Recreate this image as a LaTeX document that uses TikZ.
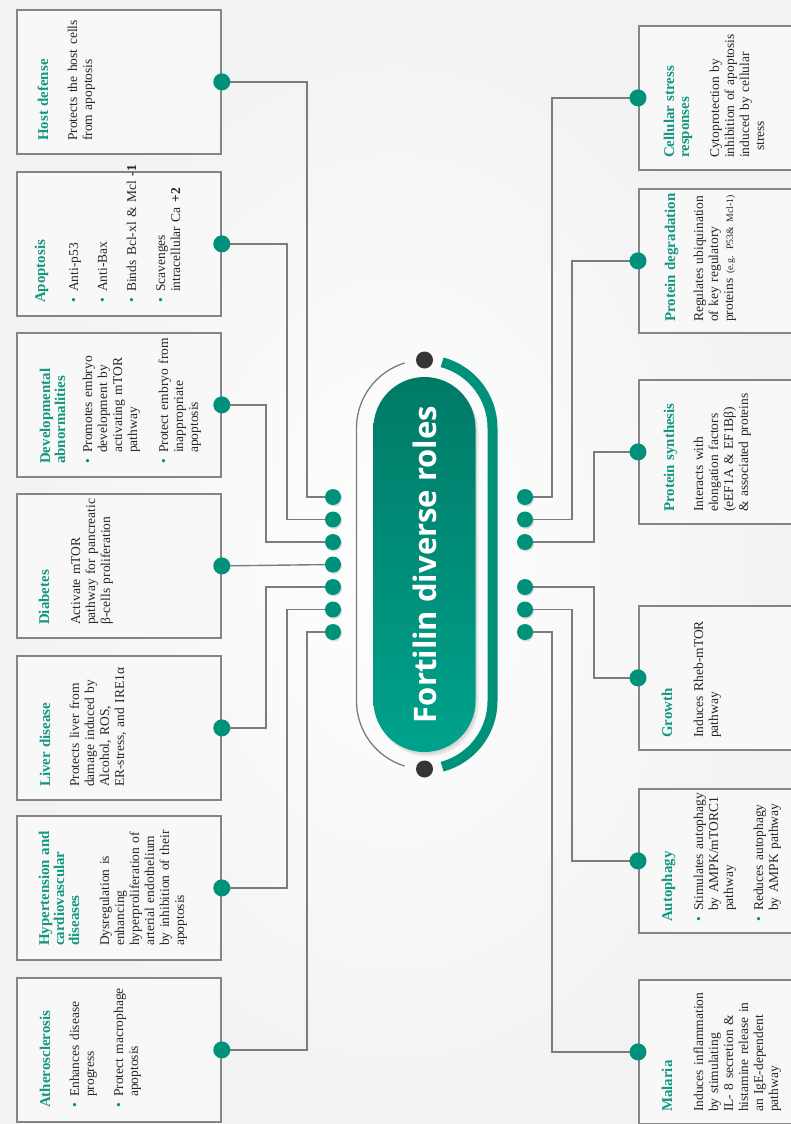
\documentclass[tikz,border=0pt]{standalone}
\usepackage{fontspec}
\setmainfont{Liberation Serif}
\newfontfamily\titlefont{Open Sans}
\usetikzlibrary{shapes.misc}

\definecolor{fteal}{HTML}{00917B}
\definecolor{headteal}{HTML}{13977F}
\definecolor{pilldark}{HTML}{007A67}
\definecolor{pilllight}{HTML}{00A28B}
\definecolor{linegray}{HTML}{7C7C7C}
\definecolor{boxgray}{HTML}{858585}
\definecolor{boxfill}{HTML}{F8F8F8}
\definecolor{pagebg}{HTML}{F1F2F2}
\definecolor{bodygray}{HTML}{262626}
\definecolor{darkdot}{HTML}{353535}

% heading, bullet and hanging indent used inside the role boxes
\newcommand\hd[1]{{\fontsize{14.9}{15}\selectfont\bfseries\color{headteal}#1}}
\newcommand\bul{\makebox[11pt][l]{\textcolor{fteal}{\textbullet}}}
\newcommand\ind{\hspace*{11pt}}

\begin{document}
\begin{tikzpicture}[x=1pt,y=1pt,
  rolebox/.style={draw=boxgray, line width=1.8pt, fill=boxfill, minimum height=144pt, inner sep=0pt, anchor=north west},
  leftbox/.style={rolebox, minimum width=204pt},
  rightbox/.style={rolebox, minimum width=170pt},
  roletext/.style={rotate=90, anchor=base west, inner sep=0pt, text width=160pt, align=left, text=bodygray, font=\fontsize{13.5}{15}\selectfont},
  tdot/.style={circle, fill=fteal, minimum size=17pt, inner sep=0pt},
  hubdot/.style={circle, fill=fteal, minimum size=16pt, inner sep=0pt},
  ddot/.style={circle, fill=darkdot, minimum size=17pt, inner sep=0pt},
  conn/.style={draw=linegray, line width=1.4pt},
  dotshadow/.style={circle, fill=black, opacity=0.12, minimum size=17pt, inner sep=0pt},
]
\useasboundingbox (0,0) rectangle (791,-1124);
\clip (0,0) rectangle (791,-1124);
\shade[inner color=white, outer color=pagebg] (0,0) rectangle (791,-1124);

% ---- central hub: ring, end dots and pill ----
\coordinate (ringtop) at (424.5,-428);
\coordinate (ringbot) at (424.5,-701);
\draw[linegray, line width=1.3pt] (ringtop) ++(107:68) arc[start angle=107, end angle=180, radius=68]
  -- ++(0,-273) arc[start angle=180, end angle=253, radius=68];
\draw[fteal, line width=10pt] (ringtop) ++(75:68) arc[start angle=75, end angle=0, radius=68]
  -- ++(0,-273) arc[start angle=0, end angle=-75, radius=68];
\node[ddot] (topdot) at (424.5,-360) {};
\node[ddot] (botdot) at (424.5,-769) {};

\foreach \s/\o in {1/0.05,2/0.05,3/0.05}
  \fill[black, opacity=\o, rounded corners=51pt] (373.5+\s,-377-1.5*\s) rectangle (475.5+\s,-752-1.5*\s);
\node[rounded rectangle, minimum width=375pt, minimum height=102pt, inner sep=0pt, rotate=90,
      top color=pilldark, bottom color=pilllight, text=white,
      font=\titlefont\bfseries\fontsize{31}{31}\selectfont] (core) at (424.5,-564.5) {Fortilin diverse roles};

% ---- hub dots ----
\foreach \i/\y in {1/497,2/519.5,3/542,4/564.5,5/587,6/609.5,7/632}{
  \node[dotshadow, minimum size=16pt] at (334,-\y-1.5) {};
  \node[hubdot] (L\i) at (333,-\y) {};}
\foreach \i/\y in {1/497,2/519.5,3/542,4/587,5/609.5,6/632}{
  \node[dotshadow, minimum size=16pt] at (526,-\y-1.5) {};
  \node[hubdot] (R\i) at (525,-\y) {};}

% ---- role boxes ----
\node[leftbox] (hostB)  at (16,-9) {};
\node[leftbox] (apopB)  at (16,-171) {};
\node[leftbox] (devB)   at (16,-332) {};
\node[leftbox] (diabB)  at (16,-493) {};
\node[leftbox] (liverB) at (16,-655) {};
\node[leftbox] (hyperB) at (16,-815) {};
\node[leftbox] (athB)   at (16,-977) {};

\node[rightbox] (cellB) at (638,-25) {};
\node[rightbox] (pdegB) at (638,-188) {};
\node[rightbox] (psynB) at (638,-379) {};
\node[rightbox] (growB) at (638,-605) {};
\node[rightbox] (autoB) at (638,-788) {};
\node[rightbox] (malB)  at (638,-979) {};

% ---- connectors ----
\draw[conn] (hostB.east)  -- ++(85,0) |- (L1);
\draw[conn] (apopB.east)  -- ++(65,0) |- (L2);
\draw[conn] (devB.east)   -- ++(44,0) |- (L3);
\draw[conn] (diabB.east)  -- (L4);
\draw[conn] (liverB.east) -- ++(44,0) |- (L5);
\draw[conn] (hyperB.east) -- ++(65,0) |- (L6);
\draw[conn] (athB.east)   -- ++(85,0) |- (L7);

\draw[conn] (cellB.west) -- ++(-86,0) |- (R1);
\draw[conn] (pdegB.west) -- ++(-66,0) |- (R2);
\draw[conn] (psynB.west) -- ++(-44,0) |- (R3);
\draw[conn] (growB.west) -- ++(-44,0) |- (R4);
\draw[conn] (autoB.west) -- ++(-66,0) |- (R5);
\draw[conn] (malB.west)  -- ++(-86,0) |- (R6);

% ---- box dots ----
\foreach \b in {hostB,apopB,devB,diabB,liverB,hyperB,athB}
  \node[tdot] (\b D) at (\b.east) {};
\foreach \b in {cellB,pdegB,psynB,growB,autoB,malB}
  \node[tdot] (\b D) at (\b.west) {};

% ---- box texts (left column) ----
\node[roletext] (hostT) at (48,-141) {\hd{Host defense}\\[14pt]
  Protects the host cells\\ from apoptosis};
\node[roletext] (apopT) at (45,-303) {\hd{Apoptosis}\\[18pt]
  \bul Anti-p53\\[14pt] \bul Anti-Bax\\[14pt] \bul Binds Bcl-xl \& Mcl \textbf{-1}\\[14pt]
  \bul Scavenges\\ \ind intracellular Ca \textbf{+2}};
\node[roletext] (devT) at (50,-464) {\hd{Developmental\\abnormalities}\\[12pt]
  \bul Promotes embryo\\ \ind development by\\ \ind activating mTOR\\ \ind pathway\\[16pt]
  \bul Protect embryo from\\ \ind inappropriate\\ \ind apoptosis};
\node[roletext] (diabT) at (49,-625) {\hd{Diabetes}\\[16pt]
  Activate mTOR\\ pathway for pancreatic\\ β-cells proliferation};
\node[roletext] (liverT) at (50,-787) {\hd{Liver disease}\\[14pt]
  Protects liver from\\ damage induced by\\ Alcohol, ROS,\\ ER-stress, and IRE1α};
\node[roletext] (hyperT) at (49,-946) {\hd{Hypertension and\\cardiovascular\\diseases}\\[15pt]
  Dysregulation is\\ enhancing\\ hyperproliferation of\\ arterial endothelium\\ by inhibition of their\\ apoptosis};
\node[roletext] (athT) at (50,-1108) {\hd{Atherosclerosis}\\[14pt]
  \bul Enhances disease\\ \ind progress\\[14pt] \bul Protect macrophage\\ \ind apoptosis};

% ---- box texts (right column) ----
\node[roletext] (cellT) at (674,-158) {\hd{Cellular stress\\responses}\\[15pt]
  Cytoprotection by\\ inhibition of apoptosis\\ induced by cellular\\ \hspace*{7pt}stress};
\node[roletext] (pdegT) at (675,-322) {\hd{Protein degradation}\\[13pt]
  Regulates ubiquination\\ of key regulatory\\ proteins {\fontsize{9.8}{15}\selectfont(e.g. P53\& Mcl-1)}};
\node[roletext] (psynT) at (674,-512) {\hd{Protein synthesis}\\[14pt]
  Interacts with\\ elongation factors\\ (eEF1A \& EF1Bβ)\\ \& associated proteins};
\node[roletext] (growT) at (672,-738) {\hd{Growth}\\[16pt]
  Induces Rheb-mTOR\\ pathway};
\node[roletext] (autoT) at (672,-922) {\hd{Autophagy}\\[16pt]
  \bul Stimulates autophagy\\ \ind by AMPK/mTORC1\\ \ind pathway\\[15pt]
  \bul Reduces autophagy\\ \ind by AMPK pathway};
\node[roletext] (malT) at (672,-1112) {\hd{Malaria}\\[16pt]
  Induces inflammation\\ by stimulating\\ IL- 8 secretion \&\\ histamine release in\\ an IgE-dependent\\ pathway};
\end{tikzpicture}
\end{document}
